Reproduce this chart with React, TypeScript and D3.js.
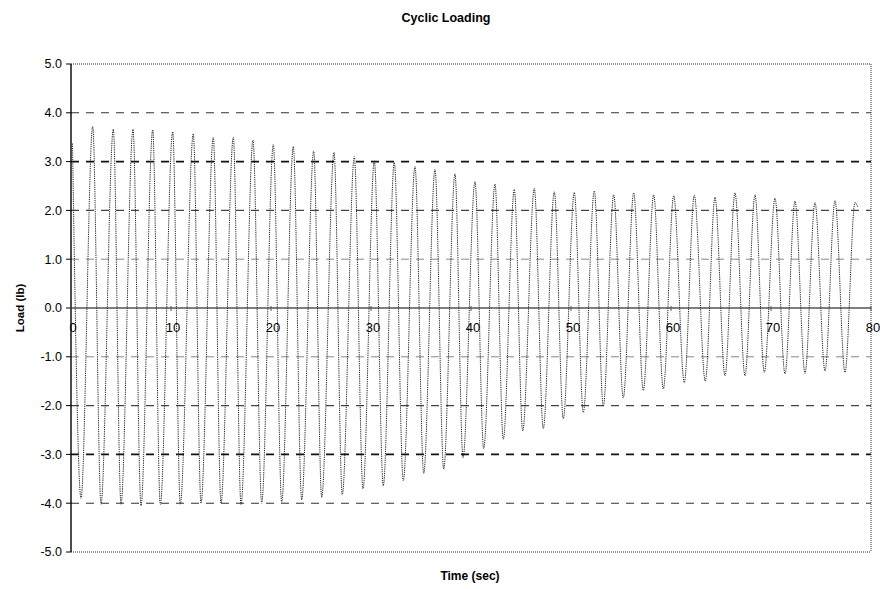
import React from "react";
import * as d3 from "d3";

// Extrema of the cyclic load trace (time in s, load in lb)
const startPoint: [number, number] = [0.15, 3.37];
const troughTimes = [
  1.0, 3.0, 5.0, 7.0, 8.93, 10.93, 13.0, 15.0, 17.0, 19.07, 21.07, 23.07, 25.07,
  27.13, 29.2, 31.23, 33.23, 35.27, 37.27, 39.2, 41.27, 43.23, 45.17, 47.23,
  49.23, 51.23, 53.23, 55.23, 57.23, 59.23, 61.33, 63.43, 65.4, 67.4, 69.33,
  71.4, 73.4, 75.4, 77.4,
];
const troughValues = [
  -3.9, -4.02, -4.02, -4.05, -4.03, -4.02, -4.0, -4.0, -4.03, -4.0, -3.98, -3.93,
  -3.88, -3.82, -3.71, -3.64, -3.54, -3.39, -3.3, -3.07, -2.88, -2.69, -2.52,
  -2.47, -2.27, -2.14, -2.01, -1.84, -1.69, -1.66, -1.53, -1.5, -1.39, -1.39,
  -1.32, -1.35, -1.34, -1.29, -1.32,
];
const peakTimes = [
  2.17, 4.23, 6.2, 8.17, 10.17, 12.23, 14.23, 16.23, 18.2, 20.23, 22.23, 24.27,
  26.3, 28.33, 30.33, 32.33, 34.4, 36.4, 38.4, 40.4, 42.4, 44.33, 46.33, 48.33,
  50.33, 52.33, 54.27, 56.27, 58.27, 60.27, 62.33, 64.4, 66.4, 68.4, 70.4, 72.4,
  74.4, 76.4, 78.4,
];
const peakValues = [
  3.72, 3.66, 3.66, 3.65, 3.61, 3.57, 3.5, 3.5, 3.44, 3.35, 3.31, 3.22, 3.19,
  3.1, 3.02, 2.98, 2.9, 2.84, 2.75, 2.59, 2.54, 2.43, 2.45, 2.38, 2.37, 2.4,
  2.32, 2.36, 2.32, 2.3, 2.31, 2.27, 2.36, 2.32, 2.25, 2.19, 2.16, 2.2, 2.16,
];
const endPoint: [number, number] = [78.7, 2.06];

const xTicks = [0, 10, 20, 30, 40, 50, 60, 70, 80];
const yTicks = [5, 4, 3, 2, 1, 0, -1, -2, -3, -4, -5];
const gridLevels = [4, 3, 2, 1, -1, -2, -3, -4];

const W = 880;
const H = 589;
const FONT = "'Liberation Sans', Arial, sans-serif";

export default function App() {
  const x = d3.scaleLinear().domain([0, 80]).range([71, 871]);
  const y = d3.scaleLinear().domain([-5, 5]).range([552, 64]);

  const pts: [number, number][] = [startPoint];
  troughTimes.forEach((t, i) => {
    pts.push([t, troughValues[i]]);
    pts.push([peakTimes[i], peakValues[i]]);
  });
  pts.push(endPoint);

  const line = d3
    .line<[number, number]>()
    .x((d) => x(d[0]))
    .y((d) => y(d[1]))
    .curve(d3.curveMonotoneX);

  const gridStyle = (v: number) => {
    const a = Math.abs(v);
    if (a === 3) return { stroke: "#111", width: 1.6 };
    if (a === 1) return { stroke: "#888", width: 1 };
    if (a === 4) return { stroke: "#333", width: 1.1 };
    return { stroke: "#444", width: 1.2 };
  };

  return (
    <svg
      width={W}
      height={H}
      style={{ position: "absolute", left: 0, top: 0, background: "#fff" }}
      fontFamily={FONT}
    >
      <rect x={0} y={0} width={W} height={H} fill="#fff" />
      <text x={446} y={22} textAnchor="middle" fontSize={12.5} fontWeight="bold">
        Cyclic Loading
      </text>

      {/* grid */}
      {gridLevels.map((v) => {
        const s = gridStyle(v);
        return (
          <line
            key={v}
            x1={x(0)}
            x2={x(80)}
            y1={y(v)}
            y2={y(v)}
            stroke={s.stroke}
            strokeWidth={s.width}
            strokeDasharray="8,7"
          />
        );
      })}

      {/* frame */}
      <line x1={x(0)} x2={x(80)} y1={y(5)} y2={y(5)} stroke="#333" strokeWidth={1} strokeDasharray="1,1" />
      <line x1={x(0)} x2={x(80)} y1={y(-5)} y2={y(-5)} stroke="#333" strokeWidth={1} strokeDasharray="1,1" />
      <line x1={x(80)} x2={x(80)} y1={y(5)} y2={y(-5)} stroke="#333" strokeWidth={1} strokeDasharray="1,1" />

      {/* zero line */}
      <line x1={x(0)} x2={x(80)} y1={y(0)} y2={y(0)} stroke="#555" strokeWidth={1.6} />

      {/* data */}
      <path
        d={line(pts) || ""}
        fill="none"
        stroke="#222"
        strokeWidth={1}
        strokeDasharray="1.2,1"
      />

      {/* left axis */}
      <line x1={x(0)} x2={x(0)} y1={y(5)} y2={y(-5)} stroke="#000" strokeWidth={1.4} />
      {yTicks.map((v) => (
        <g key={v}>
          <line x1={x(0) - 5} x2={x(0)} y1={y(v)} y2={y(v)} stroke="#000" strokeWidth={1} />
          <text
            x={62}
            y={y(v)}
            dy="0.35em"
            textAnchor="end"
            fontSize={12.5}
          >
            {v.toFixed(1)}
          </text>
        </g>
      ))}

      {/* x ticks on zero line */}
      {xTicks.map((v) => (
        <g key={v}>
          <line x1={x(v)} x2={x(v)} y1={y(0) - 2} y2={y(0) + 3} stroke="#555" strokeWidth={1} />
          <text x={x(v) + 2} y={y(0) + 24} textAnchor="middle" fontSize={13}>
            {v}
          </text>
        </g>
      ))}

      <text
        transform={`translate(24,308) rotate(-90)`}
        textAnchor="middle"
        fontSize={11.5}
        fontWeight="bold"
      >
        Load (lb)
      </text>
      <text x={470} y={580} textAnchor="middle" fontSize={12} fontWeight="bold">
        Time (sec)
      </text>
    </svg>
  );
}
